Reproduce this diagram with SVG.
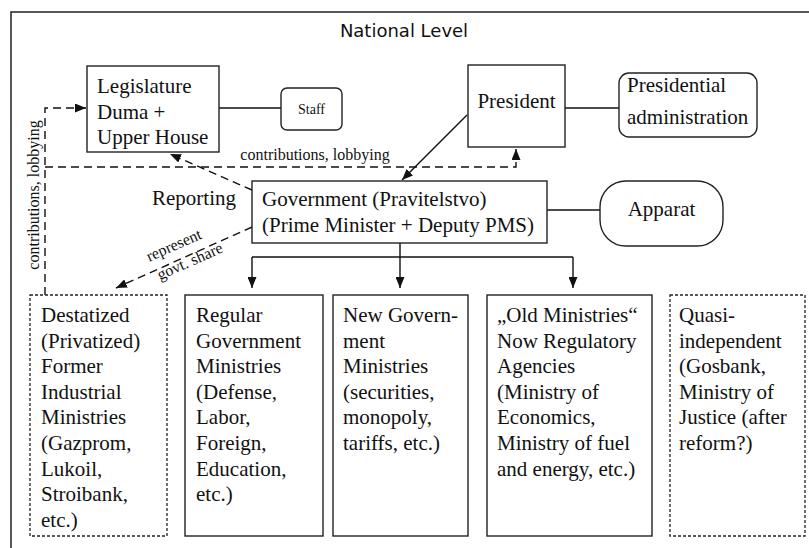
<svg xmlns="http://www.w3.org/2000/svg" width="809" height="548" viewBox="0 0 809 548">
<defs>
<marker id="ah" markerUnits="userSpaceOnUse" markerWidth="11" markerHeight="9" refX="11" refY="4.5" orient="auto">
<path d="M0,0 L11,4.5 L0,9 z" fill="#111"/>
</marker>
<style>
.t{font-family:"Liberation Serif","Times New Roman",serif;font-size:21px;fill:#111}
.s{font-family:"Liberation Serif","Times New Roman",serif;font-size:16px;fill:#111}
.box{fill:#fff;stroke:#222;stroke-width:1.4}
.dbox{fill:#fff;stroke:#222;stroke-width:1.3;stroke-dasharray:3 2}
.ln{fill:none;stroke:#111;stroke-width:1.4}
.dl{fill:none;stroke:#111;stroke-width:1.4;stroke-dasharray:8 5}
</style>
</defs>
<rect width="809" height="548" fill="#fff"/>
<g id="frame">
<path d="M11,548 V12 H809" fill="none" stroke="#222" stroke-width="1.5"/>
<text x="404" y="37" text-anchor="middle" style="font-family:'DejaVu Sans',Verdana,sans-serif;font-size:18px;fill:#111">National Level</text>
</g>
<g id="connectors">
<line class="ln" x1="219" y1="108" x2="281" y2="108"/>
<line class="ln" x1="565" y1="108" x2="619" y2="108"/>
<line class="ln" x1="547" y1="210" x2="600" y2="210"/>
<line class="ln" x1="467" y1="115" x2="402" y2="180" marker-end="url(#ah)"/>
<path class="dl" d="M45,295 V108 H86" marker-end="url(#ah)"/>
<path class="dl" d="M45,167 H516 V149" marker-end="url(#ah)"/>
<line class="dl" x1="252" y1="190" x2="170" y2="154" marker-end="url(#ah)"/>
<line class="dl" x1="252" y1="227" x2="116" y2="288" marker-end="url(#ah)"/>
<path class="ln" d="M400,243 V257 M252,257 H573"/>
<line class="ln" x1="252" y1="257" x2="252" y2="288" marker-end="url(#ah)"/>
<line class="ln" x1="400" y1="257" x2="400" y2="288" marker-end="url(#ah)"/>
<line class="ln" x1="573" y1="257" x2="573" y2="288" marker-end="url(#ah)"/>
<text class="s" transform="translate(39,195) rotate(-90)" text-anchor="middle">contributions, lobbying</text>
<text class="s" x="315" y="160" text-anchor="middle">contributions, lobbying</text>
<text class="t" x="152" y="205">Reporting</text>
<text class="s" transform="translate(176,250) rotate(-24)" text-anchor="middle">represent</text>
<text class="s" transform="translate(192,266) rotate(-24)" text-anchor="middle">govt. share</text>
</g>
<g id="legislature">
<rect class="box" x="87" y="66" width="132" height="86"/>
<text class="t" x="97" y="93">Legislature</text>
<text class="t" x="97" y="119">Duma +</text>
<text class="t" x="97" y="144">Upper House</text>
</g>
<g id="staff">
<rect class="box" x="281" y="88" width="61" height="42" rx="6"/>
<text x="311.5" y="114" text-anchor="middle" style="font-family:'Liberation Serif','Times New Roman',serif;font-size:14px;fill:#111">Staff</text>
</g>
<g id="president">
<rect class="box" x="468" y="65" width="97" height="82"/>
<text class="t" x="516.5" y="108" text-anchor="middle">President</text>
</g>
<g id="presidential-administration">
<rect class="box" x="619" y="73" width="138" height="64" rx="10"/>
<text class="t" x="627" y="92">Presidential</text>
<text class="t" x="627" y="124">administration</text>
</g>
<g id="government">
<rect class="box" x="252" y="181" width="295" height="62"/>
<text class="t" x="262" y="206">Government (Pravitelstvo)</text>
<text class="t" x="262" y="232">(Prime Minister + Deputy PMS)</text>
</g>
<g id="apparat">
<rect class="box" x="600" y="181" width="123" height="65" rx="26"/>
<text class="t" x="661.5" y="216" text-anchor="middle">Apparat</text>
</g>
<g id="destatized">
<rect class="dbox" x="30" y="295" width="137" height="241"/>
<text class="t" x="41" y="322">Destatized</text>
<text class="t" x="41" y="347.6">(Privatized)</text>
<text class="t" x="41" y="373.2">Former</text>
<text class="t" x="41" y="398.8">Industrial</text>
<text class="t" x="41" y="424.4">Ministries</text>
<text class="t" x="41" y="450">(Gazprom,</text>
<text class="t" x="41" y="475.6">Lukoil,</text>
<text class="t" x="41" y="501.2">Stroibank,</text>
<text class="t" x="41" y="526.8">etc.)</text>
</g>
<g id="regular">
<rect class="box" x="185" y="295" width="138" height="241"/>
<text class="t" x="196" y="322">Regular</text>
<text class="t" x="196" y="347.6">Government</text>
<text class="t" x="196" y="373.2">Ministries</text>
<text class="t" x="196" y="398.8">(Defense,</text>
<text class="t" x="196" y="424.4">Labor,</text>
<text class="t" x="196" y="450">Foreign,</text>
<text class="t" x="196" y="475.6">Education,</text>
<text class="t" x="196" y="501.2">etc.)</text>
</g>
<g id="new-government">
<rect class="box" x="333" y="295" width="135" height="241"/>
<text class="t" x="343" y="322">New Govern-</text>
<text class="t" x="343" y="347.6">ment</text>
<text class="t" x="343" y="373.2">Ministries</text>
<text class="t" x="343" y="398.8">(securities,</text>
<text class="t" x="343" y="424.4">monopoly,</text>
<text class="t" x="343" y="450">tariffs, etc.)</text>
</g>
<g id="old-ministries">
<rect class="box" x="487" y="295" width="165" height="241"/>
<text class="t" x="497" y="322">„Old Ministries“</text>
<text class="t" x="497" y="347.6">Now Regulatory</text>
<text class="t" x="497" y="373.2">Agencies</text>
<text class="t" x="497" y="398.8">(Ministry of</text>
<text class="t" x="497" y="424.4">Economics,</text>
<text class="t" x="497" y="450">Ministry of fuel</text>
<text class="t" x="497" y="475.6">and energy, etc.)</text>
</g>
<g id="quasi-independent">
<rect class="dbox" x="670" y="295" width="135" height="241"/>
<text class="t" x="679" y="322">Quasi-</text>
<text class="t" x="679" y="347.6">independent</text>
<text class="t" x="679" y="373.2">(Gosbank,</text>
<text class="t" x="679" y="398.8">Ministry of</text>
<text class="t" x="679" y="424.4">Justice (after</text>
<text class="t" x="679" y="450">reform?)</text>
</g>
</svg>
